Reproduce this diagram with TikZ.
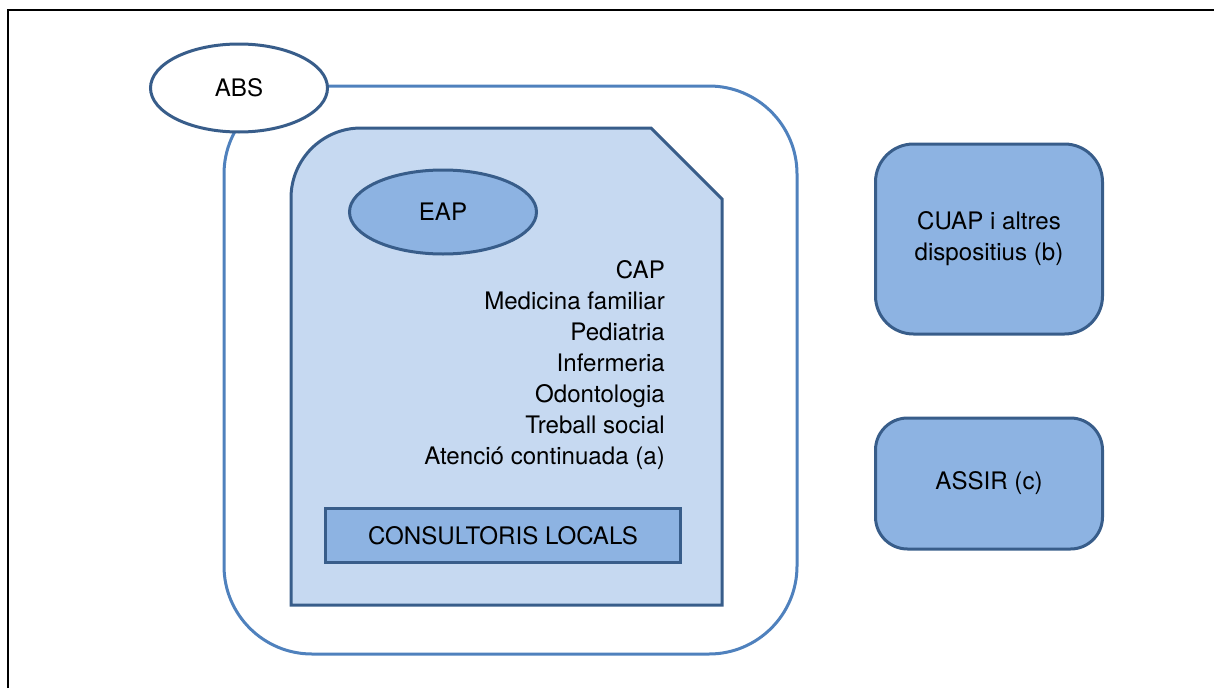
\documentclass[tikz,border=0pt]{standalone}
\usepackage{fontspec}
\setmainfont{TeX Gyre Heros}
\usetikzlibrary{shapes.geometric}
\definecolor{outerblue}{HTML}{4F81BD}
\definecolor{darkblue}{HTML}{385D8A}
\definecolor{lightfill}{HTML}{C6D9F1}
\definecolor{midfill}{HTML}{8DB3E2}
\tikzset{
  txt/.style={font=\fontsize{24.1pt}{31.1pt}\selectfont, inner sep=0pt, text=black},
  darkline/.style={draw=darkblue, line width=3pt},
  boxfill/.style={darkline, fill=midfill},
}
\begin{document}
\begin{tikzpicture}[x=1pt,y=-1pt]
\useasboundingbox (0,0) rectangle (1214,688);
% frame
\coordinate (fbl) at (8,688);
\coordinate (ftl) at (8,10);
\coordinate (ftr) at (1214,10);
\draw[black, line width=2.4pt] (fbl) -- (ftl) -- (ftr);
% ABS outer area
\draw[draw=outerblue, line width=3pt, rounded corners=88pt] (224,86) rectangle (797,654);
% ABS ellipse
\node[ellipse, draw=darkblue, line width=3pt, fill=white, minimum width=177pt, minimum height=88pt, inner sep=0pt, txt] (abs) at (239,88) {ABS};
% CAP snipped shape
\draw[darkline, fill=lightfill] (291,605) -- (291,198) arc[start angle=180, end angle=270, radius=70] -- (651,128) -- (722,199) -- (722,605) -- cycle;
% EAP
\node[ellipse, boxfill, minimum width=187pt, minimum height=84pt, inner sep=0pt, txt] (eap) at (443,212) {EAP};
% CAP list
\node[txt, align=right, anchor=east] (caplist) at (665,365) {CAP\\Medicina familiar\\Pediatria\\Infermeria\\Odontologia\\Treball social\\Atenció continuada (a)};
% consultoris
\node[boxfill, minimum width=355pt, minimum height=54pt, inner sep=0pt, txt] (cons) at (503,535.5) {CONSULTORIS LOCALS};
% CUAP
\node[boxfill, rounded corners=38pt, minimum width=227pt, minimum height=190pt, inner sep=0pt, txt, align=center] (cuap) at (989,239) {CUAP i altres\\dispositius (b)};
% ASSIR
\node[boxfill, rounded corners=32pt, minimum width=227pt, minimum height=131pt, inner sep=0pt, txt] (assir) at (989,483.5) {ASSIR (c)};
\end{tikzpicture}
\end{document}
